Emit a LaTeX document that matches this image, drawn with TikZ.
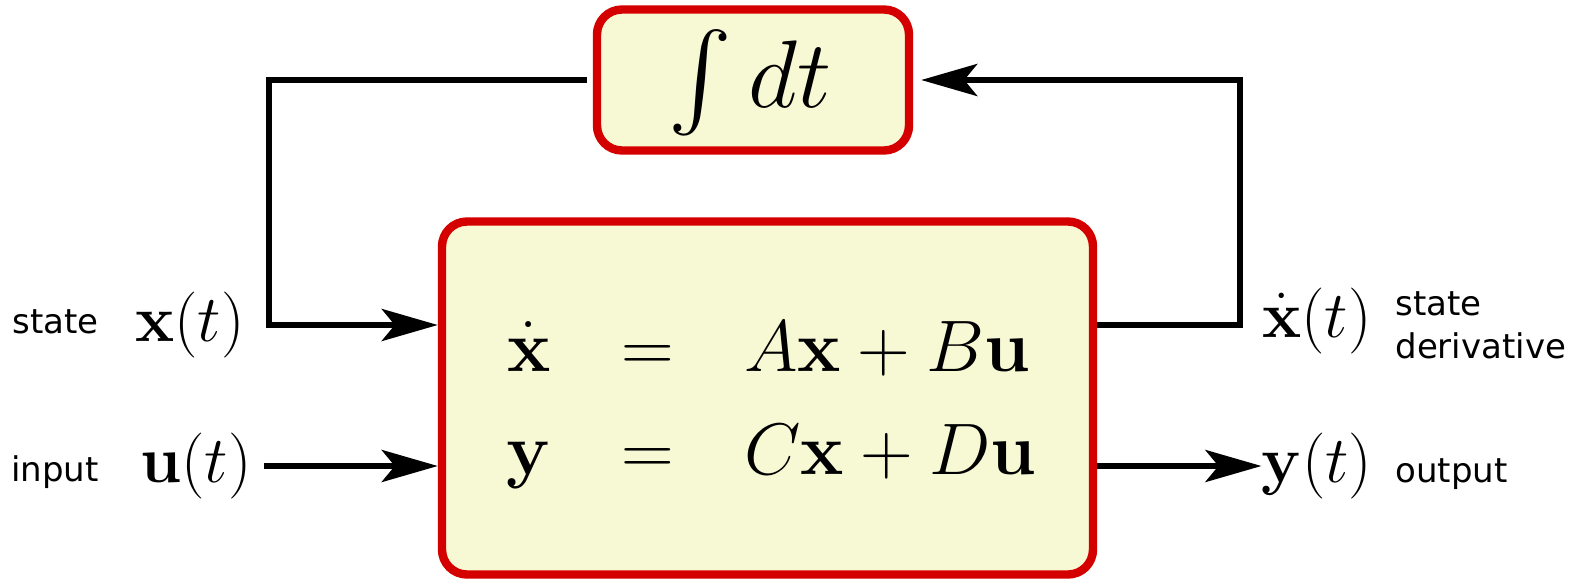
\RequirePackage{fix-cm}
\documentclass[tikz,border=0pt]{standalone}
\usepackage[no-math]{fontspec}
\DeclareFontShape{OMX}{cmex}{m}{n}{<->cmex10}{}
\newfontfamily\lblfont{DejaVu Sans}
\usetikzlibrary{arrows.meta}
\definecolor{boxred}{RGB}{212,0,0}
\definecolor{boxfill}{RGB}{247,249,212}
\begin{document}
\begin{tikzpicture}[x=0.5pt,y=-0.5pt,
  box/.style={draw=boxred, fill=boxfill, line width=4.2pt, rounded corners=12.5pt, inner sep=0pt},
  wire/.style={line width=3pt},
  arr/.style={wire, -{Stealth[length=28pt,width=16pt,inset=6.5pt]}},
  mlbl/.style={inner sep=0pt, font=\fontsize{33}{38}\selectfont},
  eq/.style={inner sep=0pt, anchor=base, font=\fontsize{36.5}{42}\selectfont},
  txt/.style={inner sep=0pt, font=\lblfont\fontsize{17}{20}\selectfont}]
\useasboundingbox (0,0) rectangle (1581,579);
% boxes
\node[box, minimum width=156pt, minimum height=70.5pt] (integ) at (753,80) {};
\node[inner sep=0pt, anchor=base, font=\fontsize{48}{56}\selectfont] (intlbl) at (750,107) {$\int dt$};
\node[box, minimum width=325.5pt, minimum height=176.5pt] (sys) at (767.5,398) {};
% equations
\node[eq] (e1l) at (529,371) {$\dot{\mathbf{x}}$};
\node[eq] (e1m) at (648,371) {$=$};
\node[eq, anchor=base west] (e1r) at (744,371) {$A\mathbf{x}+B\mathbf{u}$};
\node[eq] (e2l) at (529,474) {$\mathbf{y}$};
\node[eq] (e2m) at (648,474) {$=$};
\node[eq, anchor=base west] (e2r) at (744,474) {$C\mathbf{x}+D\mathbf{u}$};
% signal labels
\node[mlbl] (xlbl) at (190,325) {$\mathbf{x}(t)$};
\node[mlbl] (ulbl) at (196,466) {$\mathbf{u}(t)$};
\node[mlbl] (xdlbl) at (1317,321) {$\dot{\mathbf{x}}(t)$};
\node[mlbl] (ylbl) at (1317,466) {$\mathbf{y}(t)$};
\node[txt, anchor=base east] (tstate) at (99,333) {state};
\node[txt, anchor=base east] (tinput) at (99,481) {input};
\node[txt, anchor=base west] (tstate2) at (1395,315) {state};
\node[txt, anchor=base west] (tderiv) at (1395,358) {derivative};
\node[txt, anchor=base west] (toutput) at (1395,482) {output};
% connectors
\coordinate (fbL) at (269,325);
\coordinate (fbR) at (1240,325);
\draw[arr] ([xshift=-3pt]integ.west) -| (fbL) -- (sys.west |- fbL);
\draw[arr] (sys.east |- fbR) -- (fbR) |- ([xshift=4pt]integ.east);
\draw[arr] ([xshift=6pt]ulbl.east) -- (sys.west |- ulbl);
\draw[arr] (sys.east |- ylbl) -- (ylbl.west);
\end{tikzpicture}
\end{document}
